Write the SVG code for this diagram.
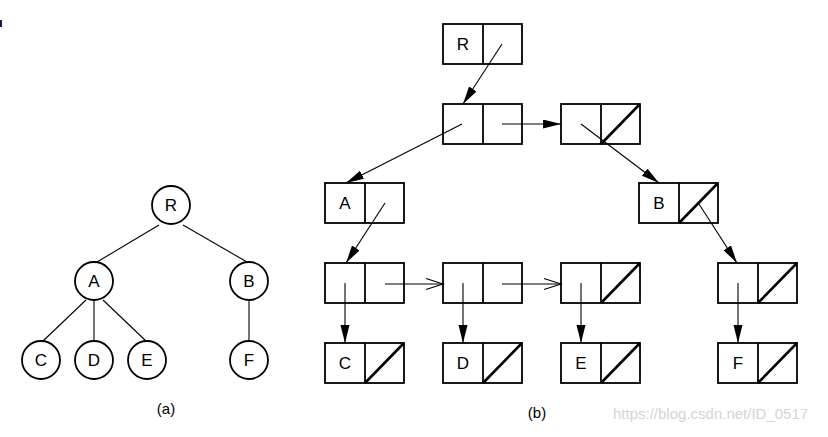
<svg xmlns="http://www.w3.org/2000/svg" width="828" height="437" viewBox="0 0 828 437">
<style>
.box{fill:#fff;stroke:#000;stroke-width:1.8}
.div{stroke:#000;stroke-width:1.8}
.sl{stroke:#000;stroke-width:2.6}
.lbl{font-family:"Liberation Sans",Arial,sans-serif;font-size:17px;fill:#000;text-anchor:middle;dominant-baseline:central}
.ptr{stroke:#000;stroke-width:1.1;fill:none;marker-end:url(#fa)}
.nxt{stroke:#000;stroke-width:1.1;fill:none;marker-end:url(#oa)}
.edge{stroke:#000;stroke-width:1.1}
.circ{fill:#fff;stroke:#000;stroke-width:1.8}
.cap{font-family:"Liberation Sans",Arial,sans-serif;font-size:15px;fill:#000;text-anchor:middle}
</style>
<defs>
<marker id="fa" markerUnits="userSpaceOnUse" markerWidth="18" markerHeight="10" refX="18" refY="4.5" orient="auto">
<path d="M0,0 L18,4.5 L0,9 z" fill="#000"/>
</marker>
<marker id="oa" markerUnits="userSpaceOnUse" markerWidth="20" markerHeight="14" refX="18" refY="6" orient="auto">
<path d="M1,0.5 L18,6 L1,11.5" fill="none" stroke="#000" stroke-width="1.1"/>
</marker>
</defs>
<rect x="0" y="20" width="2" height="7" fill="#1a1a5e"/>

<!-- (a) tree -->
<g id="tree-edges">
<line class="edge" x1="159" y1="225" x2="97" y2="262"/>
<line class="edge" x1="183" y1="225" x2="247" y2="262"/>
<line class="edge" x1="86" y1="300" x2="43" y2="341"/>
<line class="edge" x1="94" y1="301" x2="94" y2="341"/>
<line class="edge" x1="103" y1="300" x2="146" y2="341"/>
<line class="edge" x1="249" y1="301" x2="249" y2="341"/>
</g>
<g id="tR"><circle class="circ" cx="171" cy="205" r="19"/><text class="lbl" x="171" y="205">R</text></g>
<g id="tA"><circle class="circ" cx="94" cy="281" r="19"/><text class="lbl" x="94" y="281">A</text></g>
<g id="tB"><circle class="circ" cx="249" cy="281" r="19"/><text class="lbl" x="249" y="281">B</text></g>
<g id="tC"><circle class="circ" cx="41" cy="360" r="19"/><text class="lbl" x="41" y="360">C</text></g>
<g id="tD"><circle class="circ" cx="94" cy="360" r="19"/><text class="lbl" x="94" y="360">D</text></g>
<g id="tE"><circle class="circ" cx="147" cy="360" r="19"/><text class="lbl" x="147" y="360">E</text></g>
<g id="tF"><circle class="circ" cx="249" cy="360" r="19"/><text class="lbl" x="249" y="360">F</text></g>
<text class="cap" x="166" y="414">(a)</text>

<!-- (b) nodes -->
<g id="nR"><rect class="box" x="443" y="24" width="79" height="40"/><line class="div" x1="483" y1="24" x2="483" y2="64"/><text class="lbl" x="463" y="44">R</text></g>
<g id="n1"><rect class="box" x="443" y="104" width="79" height="40"/><line class="div" x1="483" y1="104" x2="483" y2="144"/></g>
<g id="n2"><rect class="box" x="561" y="104" width="79" height="40"/><line class="div" x1="601" y1="104" x2="601" y2="144"/><line class="sl" x1="601" y1="144" x2="640" y2="104"/></g>
<g id="nA"><rect class="box" x="325" y="183" width="79" height="40"/><line class="div" x1="365" y1="183" x2="365" y2="223"/><text class="lbl" x="345" y="203">A</text></g>
<g id="nB"><rect class="box" x="639" y="183" width="79" height="40"/><line class="div" x1="679" y1="183" x2="679" y2="223"/><line class="sl" x1="679" y1="223" x2="718" y2="183"/><text class="lbl" x="659" y="203">B</text></g>
<g id="n3"><rect class="box" x="325" y="263" width="79" height="40"/><line class="div" x1="365" y1="263" x2="365" y2="303"/></g>
<g id="n4"><rect class="box" x="443" y="263" width="79" height="40"/><line class="div" x1="483" y1="263" x2="483" y2="303"/></g>
<g id="n5"><rect class="box" x="561" y="263" width="79" height="40"/><line class="div" x1="601" y1="263" x2="601" y2="303"/><line class="sl" x1="601" y1="303" x2="640" y2="263"/></g>
<g id="n6"><rect class="box" x="718" y="263" width="79" height="40"/><line class="div" x1="758" y1="263" x2="758" y2="303"/><line class="sl" x1="758" y1="303" x2="797" y2="263"/></g>
<g id="nC"><rect class="box" x="325" y="343" width="79" height="40"/><line class="div" x1="365" y1="343" x2="365" y2="383"/><line class="sl" x1="365" y1="383" x2="404" y2="343"/><text class="lbl" x="345" y="363">C</text></g>
<g id="nD"><rect class="box" x="443" y="343" width="79" height="40"/><line class="div" x1="483" y1="343" x2="483" y2="383"/><line class="sl" x1="483" y1="383" x2="522" y2="343"/><text class="lbl" x="463" y="363">D</text></g>
<g id="nE"><rect class="box" x="561" y="343" width="79" height="40"/><line class="div" x1="601" y1="343" x2="601" y2="383"/><line class="sl" x1="601" y1="383" x2="640" y2="343"/><text class="lbl" x="581" y="363">E</text></g>
<g id="nF"><rect class="box" x="718" y="343" width="79" height="40"/><line class="div" x1="758" y1="343" x2="758" y2="383"/><line class="sl" x1="758" y1="383" x2="797" y2="343"/><text class="lbl" x="738" y="363">F</text></g>

<g id="connectors">
<line class="ptr" x1="502" y1="44" x2="463" y2="104"/>
<line class="ptr" x1="462" y1="124" x2="346" y2="183"/>
<line class="ptr" x1="502" y1="124" x2="561" y2="124"/>
<line class="ptr" x1="581" y1="124" x2="659" y2="183"/>
<line class="ptr" x1="385" y1="203" x2="346" y2="263"/>
<line class="ptr" x1="699" y1="204" x2="737" y2="263"/>
<line class="nxt" x1="385" y1="284" x2="443" y2="284"/>
<line class="nxt" x1="502" y1="284" x2="561" y2="284"/>
<line class="ptr" x1="345" y1="283" x2="345" y2="343"/>
<line class="ptr" x1="463" y1="283" x2="463" y2="343"/>
<line class="ptr" x1="581" y1="283" x2="581" y2="343"/>
<line class="ptr" x1="738" y1="283" x2="738" y2="343"/>
</g>
<text class="cap" x="537" y="418">(b)</text>
<text x="613" y="419" style="font-family:'Liberation Sans',Arial,sans-serif;font-size:15px;fill:#d4d4d4">https://blog.csdn.net/ID_0517</text>
</svg>
